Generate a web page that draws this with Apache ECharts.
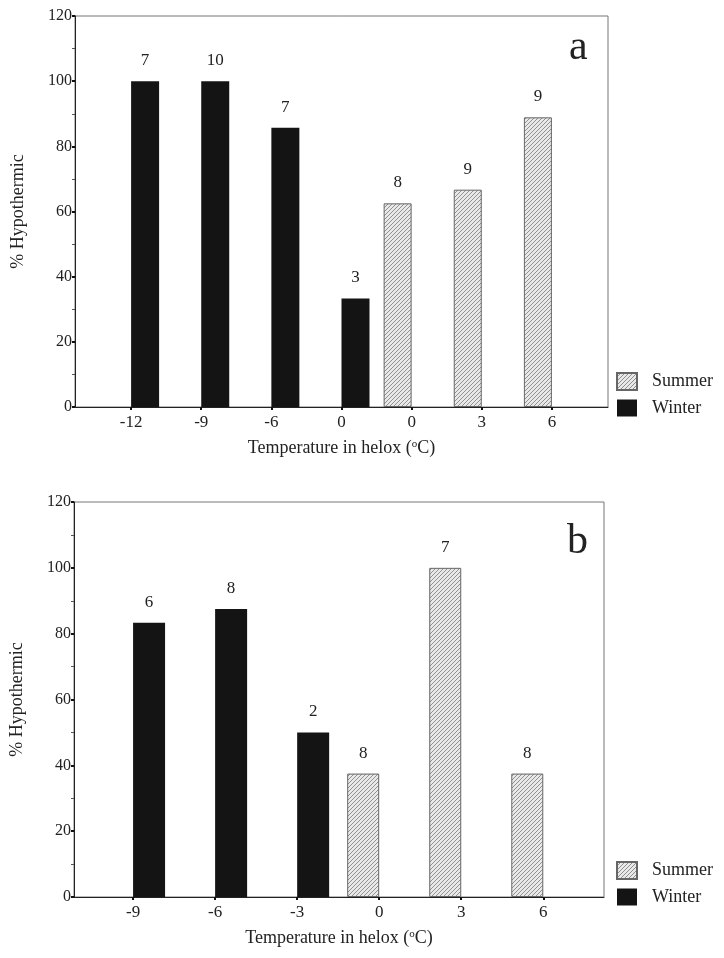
<!DOCTYPE html>
<html>
<head>
<meta charset="utf-8">
<script src="https://cdn.jsdelivr.net/npm/echarts@6/dist/echarts.min.js"></script>
<style>
  html, body { margin: 0; padding: 0; background: #fff; }
  #chart { width: 724px; height: 958px; }
</style>
</head>
<body>
<div id="chart"></div>
<script>
// panel a
var catsA = ['-12', '-9', '-6', '0', '0', '3', '6'];
var winterA = [100, 100, 85.7, 33.3, null, null, null];
var summerA = [null, null, null, null, 62.5, 66.7, 88.9];
var countA = [7, 10, 7, 3, 8, 9, 9];

// panel b
var catsB = ['-9', '-6', '-3', '0', '3', '6'];
var winterB = [83.3, 87.5, 50, null, null, null];
var summerB = [null, null, null, 37.5, 100, 37.5];
var countB = [6, 8, 2, 8, 7, 8];

var serif = "'Liberation Serif', 'DejaVu Serif', serif";

// hatch fill for summer bars
var hatch = document.createElement('canvas');
hatch.width = 4; hatch.height = 4;
var hc = hatch.getContext('2d');
hc.fillStyle = '#e9e9e9';
hc.fillRect(0, 0, 4, 4);
hc.strokeStyle = '#8f8f8f';
hc.lineWidth = 1;
hc.beginPath();
hc.moveTo(0, 4); hc.lineTo(4, 0);
hc.moveTo(-1, 1); hc.lineTo(1, -1);
hc.moveTo(3, 5); hc.lineTo(5, 3);
hc.stroke();

function toData(vals, counts) {
  var out = [];
  vals.forEach(function (v, i) {
    if (v != null) out.push({ value: [i, v], n: counts[i] });
  });
  return out;
}

function idx(n) {
  var r = [];
  for (var i = 0; i < n; i++) r.push(i);
  return r;
}

function xAxisFor(grid, cats, min, max) {
  return {
    type: 'value', gridIndex: grid, min: min, max: max,
    splitLine: { show: false },
    axisLine: { show: true, onZero: false, lineStyle: { color: '#222', width: 1 } },
    axisTick: { show: true, length: 3, customValues: idx(cats.length), lineStyle: { color: '#111', width: 2 } },
    axisLabel: {
      customValues: idx(cats.length), margin: 7,
      color: '#222', fontFamily: serif, fontSize: 17,
      formatter: function (v) { return cats[Math.round(v)]; }
    },
    name: '{t|Temperature in helox (}{s|o}{t|C)}',
    nameLocation: 'middle', nameGap: 32,
    nameTextStyle: {
      rich: {
        t: { fontFamily: serif, fontSize: 18, color: '#222' },
        s: { fontFamily: serif, fontSize: 11, color: '#222', padding: [0, 0, 7, 0] }
      }
    }
  };
}

function yAxisFor(grid) {
  return {
    type: 'value', gridIndex: grid, min: 0, max: 120, interval: 20,
    splitLine: { show: false },
    axisLine: { show: true, onZero: false, lineStyle: { color: '#222', width: 1 } },
    axisTick: { show: true, length: 3, lineStyle: { color: '#111', width: 2 } },
    minorTick: { show: true, splitNumber: 2, length: 3, lineStyle: { color: '#555' } },
    axisLabel: { color: '#222', fontFamily: serif, fontSize: 16, margin: 3 },
    name: '% Hypothermic', nameLocation: 'middle', nameGap: 48,
    nameTextStyle: { fontFamily: serif, fontSize: 18, color: '#222' }
  };
}

function barSeries(name, vals, counts, axis, width) {
  var summer = name === 'Summer';
  return {
    name: name, type: 'bar', xAxisIndex: axis, yAxisIndex: axis,
    barWidth: width, barGap: '0%',
    data: toData(vals, counts),
    itemStyle: summer
      ? { color: { image: hatch, repeat: 'repeat' }, borderColor: '#666', borderWidth: 1 }
      : { color: '#141414' },
    label: {
      show: true, position: 'top', distance: 12,
      fontFamily: serif, fontSize: 17, color: '#222',
      formatter: function (p) { return p.data.n; }
    }
  };
}

function legendFor(top) {
  return {
    data: ['Summer', 'Winter'], orient: 'vertical', left: 611, top: top,
    itemWidth: 20, itemHeight: 17, itemGap: 8, icon: 'rect',
    selectedMode: false,
    textStyle: { fontFamily: serif, fontSize: 18, color: '#222', padding: [0, 0, 0, 10] }
  };
}

var chart = echarts.init(document.getElementById('chart'));
chart.setOption({
  backgroundColor: '#fff',
  animation: false,
  title: [
    { text: 'a', left: 564, top: 22, textStyle: { fontFamily: serif, fontSize: 42, fontWeight: 'normal', color: '#222' } },
    { text: 'b', left: 562, top: 516, textStyle: { fontFamily: serif, fontSize: 42, fontWeight: 'normal', color: '#222' } }
  ],
  legend: [legendFor(367), legendFor(856)],
  grid: [
    { left: 75, top: 16, right: 116, height: 391, show: true, borderColor: '#777', borderWidth: 1 },
    { left: 73, top: 502, right: 120, height: 395, show: true, borderColor: '#777', borderWidth: 1 }
  ],
  xAxis: [xAxisFor(0, catsA, -0.8, 6.8), xAxisFor(1, catsB, -0.72, 5.74)],
  yAxis: [yAxisFor(0), yAxisFor(1)],
  series: [
    barSeries('Summer', summerA, countA, 0, 28),
    barSeries('Winter', winterA, countA, 0, 28),
    barSeries('Summer', summerB, countB, 1, 32),
    barSeries('Winter', winterB, countB, 1, 32)
  ]
});
</script>
</body>
</html>
